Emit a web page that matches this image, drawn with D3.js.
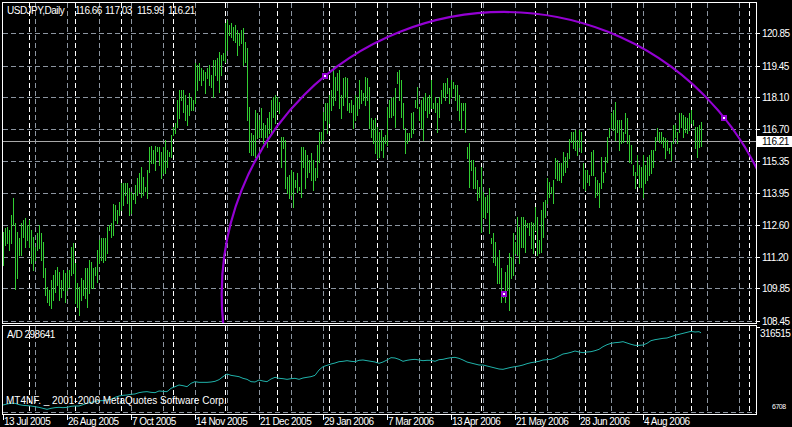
<!DOCTYPE html>
<html><head><meta charset="utf-8">
<script src="https://cdn.jsdelivr.net/npm/d3@7/dist/d3.min.js"></script>
<style>
html,body{margin:0;padding:0;background:#000;overflow:hidden}
svg{display:block}
text{font-family:"Liberation Sans",Arial,sans-serif;font-size:10px;fill:#fff;letter-spacing:-0.5px}
text.copy{letter-spacing:0}
</style>
</head><body>
<svg id="c" width="792" height="427"></svg>
<script>
// ---------------- data ----------------
const symbolTitle = "USDJPY,Daily";
const headerValues = ["116.66", "117.03", "115.99", "116.21"];
const lastClose = 116.21;

const barHigh = [
112.28,112.45,112.50,112.37,113.01,113.74,112.67,112.28,112.02,112.67,
112.80,112.88,112.58,112.80,112.37,112.06,111.63,112.24,112.58,112.24,
111.85,110.73,109.91,109.78,110.21,110.43,110.64,110.77,110.56,110.21,
110.64,110.51,110.64,110.64,111.63,111.81,110.95,110.08,109.91,110.30,
110.21,110.73,110.73,111.07,110.99,110.73,110.77,111.51,111.94,112.02,
112.02,112.02,112.50,112.58,112.67,113.49,113.44,113.23,113.57,114.39,
114.39,114.39,114.39,114.17,114.00,113.92,114.30,114.61,114.82,115.08,
114.65,114.22,114.95,115.94,115.98,115.81,115.98,115.94,115.94,115.72,
115.94,116.24,115.81,115.72,116.46,116.80,116.97,117.96,118.39,118.39,
118.39,118.18,117.75,118.27,118.09,117.96,119.56,119.47,119.56,119.34,
119.26,119.17,119.34,119.47,119.04,119.69,119.69,119.77,120.03,119.90,
119.99,121.28,121.41,121.19,121.28,121.11,121.19,120.98,120.85,120.98,
121.06,120.46,120.20,117.66,116.54,116.46,117.53,117.40,117.10,117.62,
116.97,116.89,117.19,117.45,117.96,118.09,118.18,118.09,117.88,116.37,
116.37,116.24,114.65,114.73,114.95,114.86,114.52,114.82,114.22,115.94,
115.94,115.81,115.60,115.38,115.68,115.38,115.04,116.03,116.59,116.59,
117.45,117.84,117.84,118.18,118.39,119.39,118.95,119.13,119.26,118.18,
118.91,118.95,118.91,117.84,117.96,117.75,118.18,118.09,118.83,118.39,
118.27,118.95,118.91,118.52,117.19,117.10,117.19,116.80,116.59,116.67,
116.37,116.46,117.66,117.96,118.05,118.09,118.48,119.17,119.26,118.83,
117.84,116.76,116.54,116.54,117.40,117.45,117.96,118.52,117.66,117.96,
118.09,118.27,118.09,118.18,118.83,117.84,118.09,117.84,118.09,118.39,
118.70,118.70,118.91,118.48,118.83,118.74,118.61,118.61,118.18,117.84,
117.84,117.84,115.94,116.11,115.38,115.38,115.08,114.52,114.22,115.08,
114.00,113.79,113.87,114.17,112.02,112.24,111.85,111.20,111.51,110.73,
109.65,110.56,110.86,111.38,111.20,112.24,111.85,112.93,112.50,112.93,
112.93,112.80,112.67,112.67,112.71,112.67,113.36,112.93,111.94,113.23,
113.57,113.66,114.61,114.43,114.22,114.52,115.47,115.38,115.25,115.25,
115.72,115.51,115.68,116.28,116.59,116.59,116.67,116.24,116.67,116.59,
115.25,114.95,114.95,114.73,115.72,115.81,114.65,114.52,114.39,115.51,
114.86,115.51,116.37,116.76,117.40,117.53,117.88,117.10,117.10,117.10,
116.59,117.40,117.19,116.46,116.03,115.17,114.86,115.60,115.17,115.08,
115.60,115.17,115.51,115.60,115.81,115.81,116.37,116.76,116.59,116.59,
116.37,116.33,116.24,115.90,116.16,116.89,116.89,116.59,117.40,117.40,
117.32,117.23,117.19,117.40,117.53,117.10,116.80,116.80,116.89,117.03
];

const barLow = [
110.86,111.72,111.81,111.51,111.81,112.58,109.83,110.30,111.29,111.29,
112.06,111.63,111.94,111.63,110.95,110.64,111.07,111.51,111.59,111.07,
110.34,109.57,109.27,109.14,109.01,109.35,109.70,110.00,109.35,109.48,
109.78,109.27,109.78,109.91,110.43,110.51,109.22,109.05,108.71,109.35,
109.57,109.44,109.05,109.65,109.87,109.87,110.43,110.13,110.95,111.07,
110.99,111.07,111.38,112.37,112.06,112.15,112.80,112.67,113.01,113.23,
113.44,113.87,113.53,113.01,113.10,113.70,113.53,113.87,114.00,113.79,
113.87,114.05,113.74,114.86,115.25,115.25,114.95,115.77,115.17,114.61,
114.82,114.82,115.08,115.55,115.51,116.46,116.54,116.80,117.19,117.96,
117.45,117.10,116.89,117.32,117.53,117.53,117.84,118.39,118.83,118.61,
118.83,118.27,118.91,118.61,118.52,118.09,119.04,118.83,118.31,119.04,
119.69,119.60,120.12,120.76,120.68,120.55,120.46,119.90,120.33,120.42,
119.47,119.60,117.10,115.72,115.60,115.60,115.51,116.33,116.37,116.37,
116.11,116.37,115.94,116.54,116.59,117.23,116.97,117.53,117.40,115.08,
115.90,114.17,113.96,113.74,113.87,113.36,114.22,114.00,114.09,113.79,
115.08,114.17,114.65,114.86,114.52,114.09,114.52,114.65,115.29,116.11,
116.24,117.10,116.54,116.97,117.53,117.75,117.96,118.39,117.62,117.19,
117.75,118.09,117.53,117.45,117.45,116.76,117.10,117.32,117.62,117.84,
117.96,117.75,117.96,116.76,116.37,116.11,115.68,115.47,115.51,115.81,
115.51,116.11,116.03,117.23,117.23,117.32,116.80,118.70,117.96,117.23,
116.76,115.68,116.11,116.24,116.37,116.54,117.66,117.62,117.10,116.76,
116.24,117.53,117.23,117.40,117.62,117.62,117.45,116.59,117.23,117.84,
118.09,117.96,118.27,117.84,118.09,118.48,117.96,117.53,117.10,116.76,
117.53,116.59,115.47,114.22,114.95,114.17,114.17,113.66,113.79,112.28,
112.93,112.88,113.14,112.24,111.81,110.99,110.86,110.08,110.08,109.27,
109.48,109.27,109.78,108.92,110.30,110.43,111.38,111.29,110.95,111.63,
111.63,111.42,112.50,112.15,111.59,111.38,112.37,111.29,111.38,111.42,
112.06,112.93,113.53,113.79,113.96,113.53,114.61,114.52,114.52,114.43,
114.73,114.86,115.08,115.47,116.16,115.90,115.81,115.60,115.94,115.72,
114.17,114.09,114.43,114.30,114.73,114.73,113.79,113.87,113.36,114.17,
114.43,114.86,115.29,116.37,116.76,116.67,116.24,116.59,115.81,116.11,
116.16,116.54,116.11,115.29,115.25,114.73,114.17,114.73,114.22,114.22,
113.79,114.39,114.52,114.73,114.82,115.08,115.81,116.24,116.16,116.11,
115.94,115.47,115.81,115.68,115.38,116.11,116.37,116.11,116.59,116.80,
116.37,116.59,116.54,116.67,116.97,116.89,115.90,115.51,115.94,115.99
];

const priceTicks = [120.85, 119.45, 118.10, 116.70, 115.35, 113.95, 112.60, 111.20, 109.85, 108.45];

const dateLabels = ["13 Jul 2005", "26 Aug 2005", "7 Oct 2005", "14 Nov 2005", "21 Dec 2005",
  "29 Jan 2006", "7 Mar 2006", "13 Apr 2006", "21 May 2006", "28 Jun 2006", "4 Aug 2006"];
const dateLabelBars = [0, 32, 64, 96, 128, 160, 192, 224, 256, 288, 320];
const gridBars = [16, 32, 48, 64, 80, 96, 112, 128, 144, 160, 176, 192, 208, 224, 240, 256,
  272, 288, 304, 320, 336, 352, 368];
const separatorBars = [13, 36, 59, 85, 111, 137, 163, 187, 214, 239, 266, 291, 317, 344, 373];

// Accumulation/Distribution, read every second bar (bars 0,2,4,...,348), then the last bar
const adEvenBars = [
32500,36200,38700,38700,33800,31300,30100,28800,26400,23900,
20200,16500,20200,22700,23900,22700,23900,27600,28800,28800,
33800,38700,42400,44800,48500,48500,51000,53400,60800,65700,
68200,69400,71900,73100,78000,80500,81700,79200,78000,84200,
82900,81700,94000,100100,106300,103800,100100,112400,118600,116100,
116100,116100,117300,119800,125900,137000,146900,141900,139500,137000,
130900,127200,118600,117300,124700,121000,118600,128400,134600,130900,
129600,127200,129600,130900,127200,132100,134600,137000,141900,161600,
173900,178800,183700,187400,192300,193600,196000,193600,192300,197300,
198500,196000,193600,191100,186200,191100,198500,207100,205900,200900,
193600,197300,199700,200900,198500,196000,197300,197300,193600,199700,
200900,204600,207100,208300,204600,198500,191100,187400,183700,180000,
180000,176400,172700,169000,165300,164100,167800,171400,173900,176400,
180000,184900,188600,191100,193600,198500,199700,200900,205900,213200,
220600,223100,226800,231700,228000,225500,228000,229200,232900,237800,
247700,255000,260000,262400,263600,266100,261200,256300,252600,252600,
253800,260000,269800,273500,275900,278400,279600,284500,289500,293100,
296800,300500,304200,301700,303000
];
const adLast = 298641;
const adMax = 316515;
const adMin = 6708;

// Fibonacci arc: centre at the April low, passing through two chosen points
const arcCenter = { bar: 250.5, price: 109.60 };
const arcPoint1 = { bar: 161, price: 119.00 };
const arcPoint2 = { bar: 360.5, price: 117.19 };

// ---------------- drawing ----------------
const svg = d3.select("#c");
const W = 792, H = 427;
const L = 2.5, R = 756.5, T = 2.5, MB = 323.5, IT = 325.5, IB = 414.5;

const x = d3.scaleLinear().domain([0, 376]).range([3, 755]);
const y = d3.scaleLinear().domain([108.45, 120.85]).range([321, 33]);
const yAD = d3.scaleLinear().domain([adMin, adMax]).range([412, 328]);
const cx = v => Math.round(x(v)) + 0.5;
const cy = v => Math.round(y(v)) + 0.5;

svg.append("rect").attr("width", W).attr("height", H).attr("fill", "#000");

const gridCol = "#8c95a0";
const g = svg.append("g");

// horizontal price grid
g.selectAll("line.hg").data(priceTicks).join("line")
  .attr("x1", 3).attr("x2", 756).attr("y1", d => cy(d)).attr("y2", d => cy(d))
  .attr("stroke", gridCol).attr("stroke-dasharray", "5,3");
// indicator bottom level
g.append("line").attr("x1", 3).attr("x2", 756)
  .attr("y1", Math.round(yAD(adMin)) + 0.5).attr("y2", Math.round(yAD(adMin)) + 0.5)
  .attr("stroke", gridCol).attr("stroke-dasharray", "5,3");

// vertical grid (main + indicator)
[[3, 323], [326, 414]].forEach(([a, b]) => {
  g.selectAll(null).data(gridBars).join("line")
    .attr("x1", d => cx(d)).attr("x2", d => cx(d)).attr("y1", a).attr("y2", b)
    .attr("stroke", gridCol).attr("stroke-dasharray", "5,3");
  g.selectAll(null).data(separatorBars).join("line")
    .attr("x1", d => cx(d)).attr("x2", d => cx(d)).attr("y1", a).attr("y2", b)
    .attr("stroke", "#ffffff").attr("stroke-dasharray", "5,3");
});

// current price line
g.append("line").attr("x1", 3).attr("x2", 756)
  .attr("y1", cy(lastClose)).attr("y2", cy(lastClose))
  .attr("stroke", "#a8a8a8");

// bars
const bars = barHigh.map((h, i) => ({ i, h, l: barLow[i] }));
svg.append("g").selectAll("line").data(bars).join("line")
  .attr("x1", d => cx(d.i)).attr("x2", d => cx(d.i))
  .attr("y1", d => Math.round(y(d.h))).attr("y2", d => Math.round(y(d.l)) + 1)
  .attr("stroke", "#32cd32").attr("stroke-width", 1);

// arc (clipped to main window)
svg.append("clipPath").attr("id", "mainClip").append("rect")
  .attr("x", 3).attr("y", 3).attr("width", 753).attr("height", 320);
const acx = x(arcCenter.bar), acy = y(arcCenter.price);
const ar = Math.hypot(x(arcPoint1.bar) - acx, y(arcPoint1.price) - acy);
svg.append("circle").attr("clip-path", "url(#mainClip)")
  .attr("cx", acx).attr("cy", acy).attr("r", ar)
  .attr("fill", "none").attr("stroke", "#9400d3").attr("stroke-width", 2.2);

[arcPoint1, arcPoint2, arcCenter].forEach(p => {
  const px = Math.round(x(p.bar)), py = Math.round(y(p.price));
  svg.append("rect").attr("x", px - 3).attr("y", py - 3).attr("width", 6).attr("height", 6)
    .attr("fill", "#9400d3");
  svg.append("rect").attr("x", px - 1).attr("y", py - 1).attr("width", 2).attr("height", 2)
    .attr("fill", "#ffffff");
});

// A/D line
const adPts = adEvenBars.map((v, k) => [k * 2, v]).concat([[barHigh.length - 1, adLast]]);
svg.append("path").datum(adPts)
  .attr("d", d3.line().x(d => x(d[0])).y(d => yAD(d[1])))
  .attr("fill", "none").attr("stroke", "#20b2aa").attr("stroke-width", 1);

// frames
const fr = svg.append("g").attr("stroke", "#fff").attr("fill", "none");
fr.append("rect").attr("x", L).attr("y", T).attr("width", R - L).attr("height", MB - T);
fr.append("rect").attr("x", L).attr("y", IT).attr("width", R - L).attr("height", IB - IT);

// price axis
svg.selectAll("line.pt").data(priceTicks).join("line")
  .attr("x1", 757).attr("x2", 760).attr("y1", d => cy(d)).attr("y2", d => cy(d))
  .attr("stroke", "#fff");
svg.selectAll("text.pt").data(priceTicks).join("text")
  .attr("x", 762).attr("y", d => Math.round(y(d)) + 4)
  .text(d => d.toFixed(2));

// current price label
svg.append("rect").attr("x", 757).attr("y", Math.round(y(lastClose)) - 5)
  .attr("width", 35).attr("height", 11).attr("fill", "#fff");
svg.append("text").attr("x", 762).attr("y", Math.round(y(lastClose)) + 4)
  .style("fill", "#000").text(lastClose.toFixed(2));

// indicator axis
svg.append("line").attr("x1", 757).attr("x2", 760)
  .attr("y1", Math.round(yAD(adMax)) - 0.5).attr("y2", Math.round(yAD(adMax)) - 0.5).attr("stroke", "#fff");
svg.append("text").attr("x", 760).attr("y", 337).text(String(adMax));
svg.append("text").attr("x", 772).attr("y", 409).style("font-size", "7px").text(String(adMin));

// date axis
svg.selectAll("line.dt").data(dateLabelBars).join("line")
  .attr("x1", d => cx(d)).attr("x2", d => cx(d)).attr("y1", 415).attr("y2", 420)
  .attr("stroke", "#fff");
svg.selectAll("text.dt").data(dateLabels).join("text")
  .attr("x", (d, i) => Math.round(x(dateLabelBars[i])) + 1).attr("y", 425)
  .text(d => d);

// header and labels
const hdr = svg.append("text").attr("x", 7).attr("y", 14);
hdr.append("tspan").text(symbolTitle);
const hx = [75, 105, 137, 168];
headerValues.forEach((v, i) => hdr.append("tspan").attr("x", hx[i]).text(v));

svg.append("text").attr("x", 7).attr("y", 338).text("A/D " + adLast);
svg.append("text").attr("class", "copy").attr("x", 6).attr("y", 404)
  .text("MT4NF. _ 2001-2006 MetaQuotes Software Corp.");
</script>
</body></html>
